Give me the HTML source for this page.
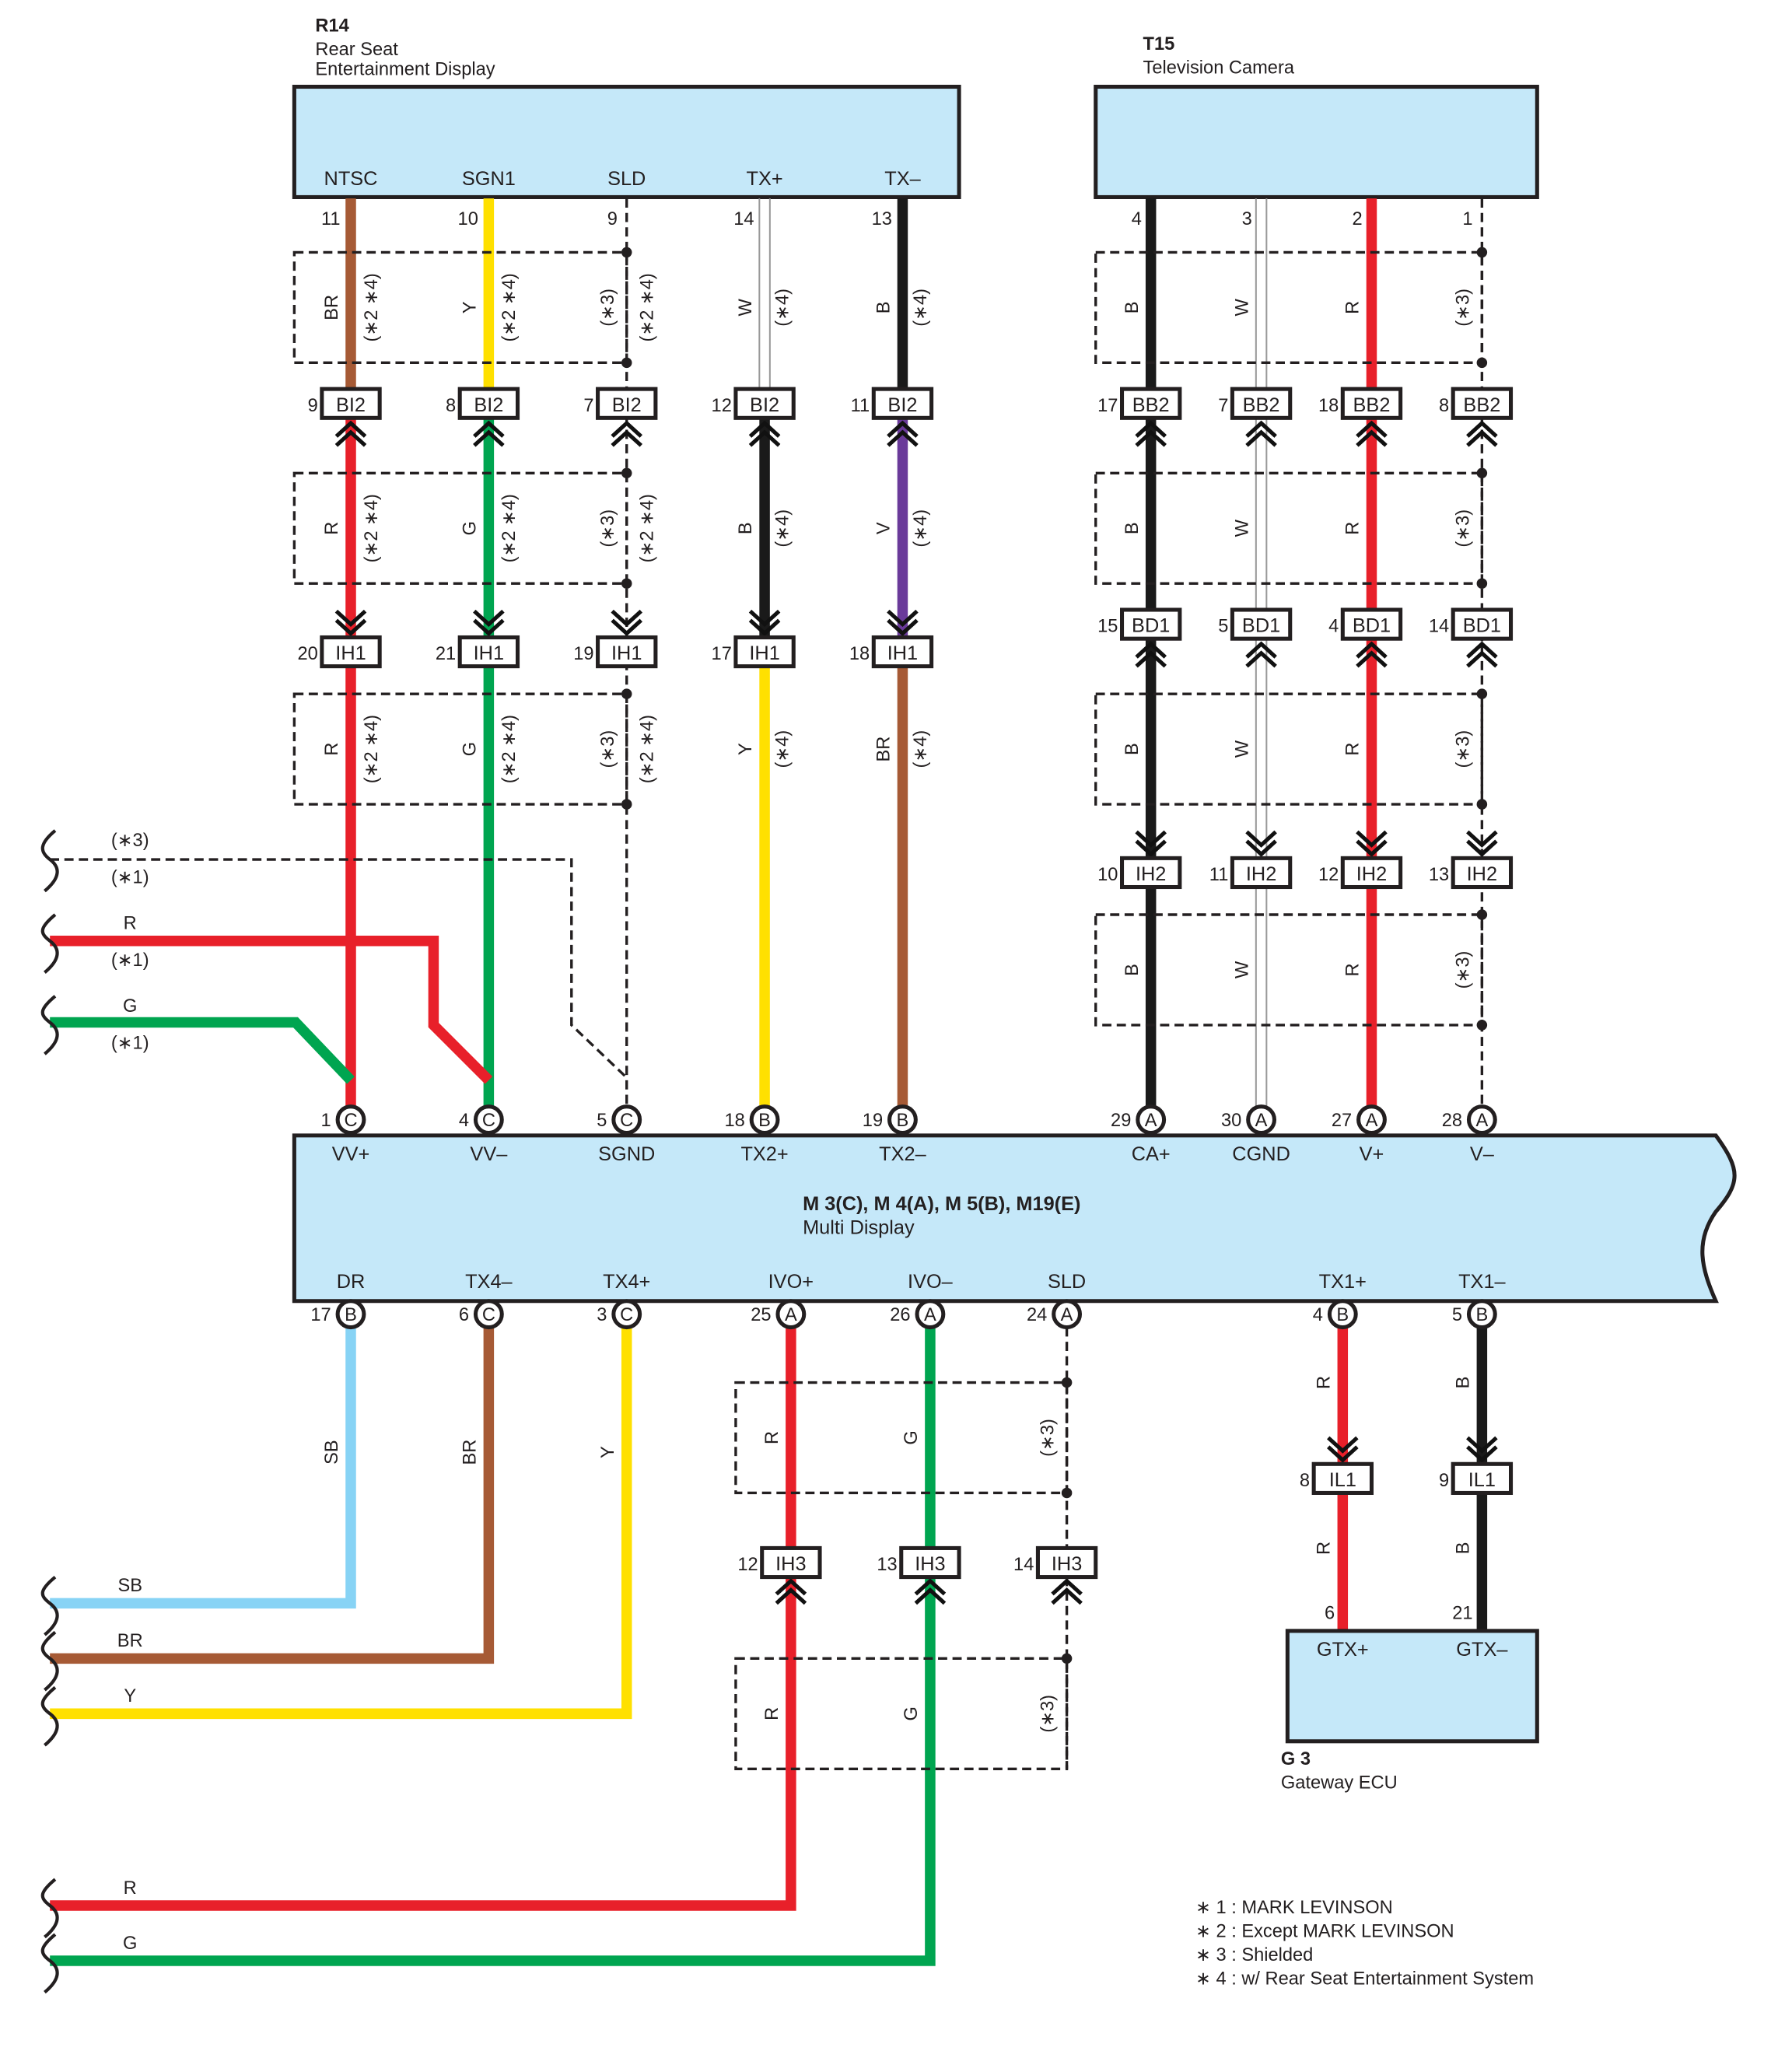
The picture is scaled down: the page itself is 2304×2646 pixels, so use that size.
<!DOCTYPE html>
<html><head><meta charset="utf-8"><style>
html,body{margin:0;padding:0;background:#fff}
svg{display:block}
text{font-family:"Liberation Sans",Arial,sans-serif;fill:#231f20}
</style></head><body>
<svg width="2304" height="2646" viewBox="0 0 1364 1566" preserveAspectRatio="none" xmlns="http://www.w3.org/2000/svg">
<defs>
<g id="up"><polyline points="-11,10 0,0 11,10" fill="none" stroke="#111" stroke-width="3"/><polyline points="-11,17 0,7 11,17" fill="none" stroke="#111" stroke-width="3"/></g>
<g id="dn"><polyline points="-11,-10 0,0 11,-10" fill="none" stroke="#111" stroke-width="3"/><polyline points="-11,-17 0,-7 11,-17" fill="none" stroke="#111" stroke-width="3"/></g>
</defs>
<text x="240" y="24" font-size="14" font-weight="bold">R14</text>
<text x="240" y="42" font-size="14">Rear Seat</text>
<text x="240" y="57" font-size="14">Entertainment Display</text>
<text x="870" y="38" font-size="14" font-weight="bold">T15</text>
<text x="870" y="56" font-size="14">Television Camera</text>
<rect x="224" y="66" width="506" height="84" fill="#c5e8f9" stroke="#231f20" stroke-width="3"/>
<rect x="834" y="66" width="336" height="84" fill="#c5e8f9" stroke="#231f20" stroke-width="3"/>
<g font-size="15" text-anchor="middle">
<text x="267" y="141">NTSC</text><text x="372" y="141">SGN1</text><text x="477" y="141">SLD</text><text x="582" y="141">TX+</text><text x="687" y="141">TX–</text>
</g>
<g stroke-width="8" fill="none">
<line x1="267" y1="151" x2="267" y2="296" stroke="#a65a35"/>
<line x1="267" y1="318" x2="267" y2="842" stroke="#e8202a"/>
<line x1="372" y1="151" x2="372" y2="296" stroke="#ffe000"/>
<line x1="372" y1="318" x2="372" y2="842" stroke="#00a550"/>
<line x1="582" y1="318" x2="582" y2="485" stroke="#1a1a1a"/>
<line x1="582" y1="507" x2="582" y2="842" stroke="#ffe000"/>
<line x1="687" y1="151" x2="687" y2="296" stroke="#1a1a1a"/>
<line x1="687" y1="318" x2="687" y2="485" stroke="#6a3a9a"/>
<line x1="687" y1="507" x2="687" y2="842" stroke="#a65a35"/>
<line x1="876" y1="151" x2="876" y2="842" stroke="#1a1a1a"/>
<line x1="1044" y1="151" x2="1044" y2="842" stroke="#e8202a"/>
<polyline points="38,716 330,716 330,780 372,822" stroke="#e8202a"/>
<polyline points="38,778 225,778 267,822" stroke="#00a550"/>
<polyline points="267,1010 267,1220 38,1220" stroke="#87d3f5"/>
<polyline points="372,1010 372,1262 38,1262" stroke="#a65a35"/>
<polyline points="477,1010 477,1304 38,1304" stroke="#ffe000"/>
<polyline points="602,1010 602,1178" stroke="#e8202a"/>
<polyline points="602,1200 602,1450 38,1450" stroke="#e8202a"/>
<polyline points="708,1010 708,1178" stroke="#00a550"/>
<polyline points="708,1200 708,1492 38,1492" stroke="#00a550"/>
<polyline points="1022,1010 1022,1241" stroke="#e8202a"/>
<polyline points="1128,1010 1128,1241" stroke="#1a1a1a"/>
</g>
<g stroke="#999" stroke-width="1.2">
<line x1="578" y1="151" x2="578" y2="296"/><line x1="586" y1="151" x2="586" y2="296"/>
<line x1="956" y1="151" x2="956" y2="842"/><line x1="964" y1="151" x2="964" y2="842"/>
</g>
<g stroke="#231f20" stroke-width="2" stroke-dasharray="7,4" fill="none">
<line x1="477" y1="151" x2="477" y2="842"/>
<line x1="1128" y1="151" x2="1128" y2="842"/>
<line x1="812" y1="1010" x2="812" y2="1178"/>
<line x1="812" y1="1200" x2="812" y2="1346"/>
<polyline points="38,654 435,654 435,780 477,820"/>
<rect x="224" y="192" width="253" height="84"/><rect x="224" y="360" width="253" height="84"/><rect x="224" y="528" width="253" height="84"/>
<rect x="834" y="192" width="294" height="84"/><rect x="834" y="360" width="294" height="84"/><rect x="834" y="528" width="294" height="84"/><rect x="834" y="696" width="294" height="84"/>
<rect x="560" y="1052" width="252" height="84"/><rect x="560" y="1262" width="252" height="84"/>
</g>
<g fill="#231f20">
<circle cx="477" cy="192" r="4"/><circle cx="477" cy="276" r="4"/><circle cx="477" cy="360" r="4"/><circle cx="477" cy="444" r="4"/><circle cx="477" cy="528" r="4"/><circle cx="477" cy="612" r="4"/>
<circle cx="1128" cy="192" r="4"/><circle cx="1128" cy="276" r="4"/><circle cx="1128" cy="360" r="4"/><circle cx="1128" cy="444" r="4"/><circle cx="1128" cy="528" r="4"/><circle cx="1128" cy="612" r="4"/><circle cx="1128" cy="696" r="4"/><circle cx="1128" cy="780" r="4"/>
<circle cx="812" cy="1052" r="4"/><circle cx="812" cy="1136" r="4"/><circle cx="812" cy="1262" r="4"/>
</g>
<g stroke="#231f20" stroke-width="2.5" fill="none">
<path d="M42,632 C30,642 30,648 38,654 C46,660 46,668 34,678"/>
<path d="M42,696 C30,706 30,710 38,716 C46,722 46,730 34,740"/>
<path d="M42,758 C30,768 30,772 38,778 C46,784 46,792 34,802"/>
<path d="M42,1200 C30,1210 30,1214 38,1220 C46,1226 46,1234 34,1244"/>
<path d="M42,1242 C30,1252 30,1256 38,1262 C46,1268 46,1276 34,1286"/>
<path d="M42,1284 C30,1294 30,1298 38,1304 C46,1310 46,1318 34,1328"/>
<path d="M42,1430 C30,1440 30,1444 38,1450 C46,1456 46,1464 34,1474"/>
<path d="M42,1472 C30,1482 30,1486 38,1492 C46,1498 46,1506 34,1516"/>
</g>
<g font-size="14" text-anchor="middle">
<text x="99" y="644">(∗3)</text><text x="99" y="672">(∗1)</text>
<text x="99" y="707">R</text><text x="99" y="735">(∗1)</text>
<text x="99" y="770">G</text><text x="99" y="798">(∗1)</text>
<text x="99" y="1211">SB</text><text x="99" y="1253">BR</text><text x="99" y="1295">Y</text>
<text x="99" y="1441">R</text><text x="99" y="1483">G</text>
</g>
<g>
<use href="#up" x="267" y="322"/><use href="#up" x="372" y="322"/><use href="#up" x="477" y="322"/><use href="#up" x="582" y="322"/><use href="#up" x="687" y="322"/>
<use href="#dn" x="267" y="482"/><use href="#dn" x="372" y="482"/><use href="#dn" x="477" y="482"/><use href="#dn" x="582" y="482"/><use href="#dn" x="687" y="482"/>
<use href="#up" x="876" y="322"/><use href="#up" x="960" y="322"/><use href="#up" x="1044" y="322"/><use href="#up" x="1128" y="322"/>
<use href="#up" x="876" y="490"/><use href="#up" x="960" y="490"/><use href="#up" x="1044" y="490"/><use href="#up" x="1128" y="490"/>
<use href="#dn" x="876" y="650"/><use href="#dn" x="960" y="650"/><use href="#dn" x="1044" y="650"/><use href="#dn" x="1128" y="650"/>
<use href="#up" x="602" y="1203"/><use href="#up" x="708" y="1203"/><use href="#up" x="812" y="1203"/>
<use href="#dn" x="1022" y="1111"/><use href="#dn" x="1128" y="1111"/>
</g>
<g stroke="#231f20" stroke-width="3" fill="#fff">
<rect x="245" y="296" width="44" height="22"/><rect x="350" y="296" width="44" height="22"/><rect x="455" y="296" width="44" height="22"/><rect x="560" y="296" width="44" height="22"/><rect x="665" y="296" width="44" height="22"/>
<rect x="245" y="485" width="44" height="22"/><rect x="350" y="485" width="44" height="22"/><rect x="455" y="485" width="44" height="22"/><rect x="560" y="485" width="44" height="22"/><rect x="665" y="485" width="44" height="22"/>
<rect x="854" y="296" width="44" height="22"/><rect x="938" y="296" width="44" height="22"/><rect x="1022" y="296" width="44" height="22"/><rect x="1106" y="296" width="44" height="22"/>
<rect x="854" y="464" width="44" height="22"/><rect x="938" y="464" width="44" height="22"/><rect x="1022" y="464" width="44" height="22"/><rect x="1106" y="464" width="44" height="22"/>
<rect x="854" y="653" width="44" height="22"/><rect x="938" y="653" width="44" height="22"/><rect x="1022" y="653" width="44" height="22"/><rect x="1106" y="653" width="44" height="22"/>
<rect x="580" y="1178" width="44" height="22"/><rect x="686" y="1178" width="44" height="22"/><rect x="790" y="1178" width="44" height="22"/>
<rect x="1000" y="1114" width="44" height="22"/><rect x="1106" y="1114" width="44" height="22"/>
</g>
<g font-size="15" text-anchor="middle">
<text x="267" y="313">BI2</text><text x="372" y="313">BI2</text><text x="477" y="313">BI2</text><text x="582" y="313">BI2</text><text x="687" y="313">BI2</text>
<text x="267" y="502">IH1</text><text x="372" y="502">IH1</text><text x="477" y="502">IH1</text><text x="582" y="502">IH1</text><text x="687" y="502">IH1</text>
<text x="876" y="313">BB2</text><text x="960" y="313">BB2</text><text x="1044" y="313">BB2</text><text x="1128" y="313">BB2</text>
<text x="876" y="481">BD1</text><text x="960" y="481">BD1</text><text x="1044" y="481">BD1</text><text x="1128" y="481">BD1</text>
<text x="876" y="670">IH2</text><text x="960" y="670">IH2</text><text x="1044" y="670">IH2</text><text x="1128" y="670">IH2</text>
<text x="602" y="1195">IH3</text><text x="708" y="1195">IH3</text><text x="812" y="1195">IH3</text>
<text x="1022" y="1131">IL1</text><text x="1128" y="1131">IL1</text>
</g>
<g font-size="14" text-anchor="end">
<text x="259" y="171">11</text><text x="364" y="171">10</text><text x="470" y="171">9</text><text x="574" y="171">14</text><text x="679" y="171">13</text>
<text x="869" y="171">4</text><text x="953" y="171">3</text><text x="1037" y="171">2</text><text x="1121" y="171">1</text>
<text x="242" y="313">9</text><text x="347" y="313">8</text><text x="452" y="313">7</text><text x="557" y="313">12</text><text x="662" y="313">11</text>
<text x="242" y="502">20</text><text x="347" y="502">21</text><text x="452" y="502">19</text><text x="557" y="502">17</text><text x="662" y="502">18</text>
<text x="851" y="313">17</text><text x="935" y="313">7</text><text x="1019" y="313">18</text><text x="1103" y="313">8</text>
<text x="851" y="481">15</text><text x="935" y="481">5</text><text x="1019" y="481">4</text><text x="1103" y="481">14</text>
<text x="851" y="670">10</text><text x="935" y="670">11</text><text x="1019" y="670">12</text><text x="1103" y="670">13</text>
<text x="577" y="1195">12</text><text x="683" y="1195">13</text><text x="787" y="1195">14</text>
<text x="997" y="1131">8</text><text x="1103" y="1131">9</text>
<text x="1016" y="1232">6</text><text x="1121" y="1232">21</text>
</g>
<g font-size="14" text-anchor="middle">
<text transform="translate(257,234) rotate(-90)">BR</text><text transform="translate(287,234) rotate(-90)">(∗2 ∗4)</text>
<text transform="translate(362,234) rotate(-90)">Y</text><text transform="translate(392,234) rotate(-90)">(∗2 ∗4)</text>
<text transform="translate(467,234) rotate(-90)">(∗3)</text><text transform="translate(497,234) rotate(-90)">(∗2 ∗4)</text>
<text transform="translate(572,234) rotate(-90)">W</text><text transform="translate(600,234) rotate(-90)">(∗4)</text>
<text transform="translate(677,234) rotate(-90)">B</text><text transform="translate(705,234) rotate(-90)">(∗4)</text>
<text transform="translate(257,402) rotate(-90)">R</text><text transform="translate(287,402) rotate(-90)">(∗2 ∗4)</text>
<text transform="translate(362,402) rotate(-90)">G</text><text transform="translate(392,402) rotate(-90)">(∗2 ∗4)</text>
<text transform="translate(467,402) rotate(-90)">(∗3)</text><text transform="translate(497,402) rotate(-90)">(∗2 ∗4)</text>
<text transform="translate(572,402) rotate(-90)">B</text><text transform="translate(600,402) rotate(-90)">(∗4)</text>
<text transform="translate(677,402) rotate(-90)">V</text><text transform="translate(705,402) rotate(-90)">(∗4)</text>
<text transform="translate(257,570) rotate(-90)">R</text><text transform="translate(287,570) rotate(-90)">(∗2 ∗4)</text>
<text transform="translate(362,570) rotate(-90)">G</text><text transform="translate(392,570) rotate(-90)">(∗2 ∗4)</text>
<text transform="translate(467,570) rotate(-90)">(∗3)</text><text transform="translate(497,570) rotate(-90)">(∗2 ∗4)</text>
<text transform="translate(572,570) rotate(-90)">Y</text><text transform="translate(600,570) rotate(-90)">(∗4)</text>
<text transform="translate(677,570) rotate(-90)">BR</text><text transform="translate(705,570) rotate(-90)">(∗4)</text>
<text transform="translate(866,234) rotate(-90)">B</text><text transform="translate(950,234) rotate(-90)">W</text><text transform="translate(1034,234) rotate(-90)">R</text><text transform="translate(1118,234) rotate(-90)">(∗3)</text>
<text transform="translate(866,402) rotate(-90)">B</text><text transform="translate(950,402) rotate(-90)">W</text><text transform="translate(1034,402) rotate(-90)">R</text><text transform="translate(1118,402) rotate(-90)">(∗3)</text>
<text transform="translate(866,570) rotate(-90)">B</text><text transform="translate(950,570) rotate(-90)">W</text><text transform="translate(1034,570) rotate(-90)">R</text><text transform="translate(1118,570) rotate(-90)">(∗3)</text>
<text transform="translate(866,738) rotate(-90)">B</text><text transform="translate(950,738) rotate(-90)">W</text><text transform="translate(1034,738) rotate(-90)">R</text><text transform="translate(1118,738) rotate(-90)">(∗3)</text>
<text transform="translate(257,1105) rotate(-90)">SB</text><text transform="translate(362,1105) rotate(-90)">BR</text><text transform="translate(467,1105) rotate(-90)">Y</text>
<text transform="translate(592,1094) rotate(-90)">R</text><text transform="translate(698,1094) rotate(-90)">G</text><text transform="translate(802,1094) rotate(-90)">(∗3)</text>
<text transform="translate(592,1304) rotate(-90)">R</text><text transform="translate(698,1304) rotate(-90)">G</text><text transform="translate(802,1304) rotate(-90)">(∗3)</text>
<text transform="translate(1012,1052) rotate(-90)">R</text><text transform="translate(1118,1052) rotate(-90)">B</text>
<text transform="translate(1012,1178) rotate(-90)">R</text><text transform="translate(1118,1178) rotate(-90)">B</text>
</g>
<path d="M224,864 L1306,864 C1325,890 1325,900 1306,922 C1290,945 1295,965 1306,990 L224,990 Z" fill="#c5e8f9" stroke="#231f20" stroke-width="3"/>
<g font-size="15" text-anchor="middle">
<text x="267" y="883">VV+</text><text x="372" y="883">VV–</text><text x="477" y="883">SGND</text><text x="582" y="883">TX2+</text><text x="687" y="883">TX2–</text>
<text x="876" y="883">CA+</text><text x="960" y="883">CGND</text><text x="1044" y="883">V+</text><text x="1128" y="883">V–</text>
<text x="267" y="980">DR</text><text x="372" y="980">TX4–</text><text x="477" y="980">TX4+</text><text x="602" y="980">IVO+</text><text x="708" y="980">IVO–</text><text x="812" y="980">SLD</text>
<text x="1022" y="980">TX1+</text><text x="1128" y="980">TX1–</text>
</g>
<text x="611" y="921" font-size="15" font-weight="bold">M 3(C), M 4(A), M 5(B), M19(E)</text>
<text x="611" y="939" font-size="15">Multi Display</text>
<g stroke="#231f20" stroke-width="3" fill="#fff">
<circle cx="267" cy="852" r="10"/><circle cx="372" cy="852" r="10"/><circle cx="477" cy="852" r="10"/><circle cx="582" cy="852" r="10"/><circle cx="687" cy="852" r="10"/>
<circle cx="876" cy="852" r="10"/><circle cx="960" cy="852" r="10"/><circle cx="1044" cy="852" r="10"/><circle cx="1128" cy="852" r="10"/>
<circle cx="267" cy="1000" r="10"/><circle cx="372" cy="1000" r="10"/><circle cx="477" cy="1000" r="10"/><circle cx="602" cy="1000" r="10"/><circle cx="708" cy="1000" r="10"/><circle cx="812" cy="1000" r="10"/><circle cx="1022" cy="1000" r="10"/><circle cx="1128" cy="1000" r="10"/>
</g>
<g font-size="14" text-anchor="middle">
<text x="267" y="857">C</text><text x="372" y="857">C</text><text x="477" y="857">C</text><text x="582" y="857">B</text><text x="687" y="857">B</text>
<text x="876" y="857">A</text><text x="960" y="857">A</text><text x="1044" y="857">A</text><text x="1128" y="857">A</text>
<text x="267" y="1005">B</text><text x="372" y="1005">C</text><text x="477" y="1005">C</text><text x="602" y="1005">A</text><text x="708" y="1005">A</text><text x="812" y="1005">A</text><text x="1022" y="1005">B</text><text x="1128" y="1005">B</text>
</g>
<g font-size="14" text-anchor="end">
<text x="252" y="857">1</text><text x="357" y="857">4</text><text x="462" y="857">5</text><text x="567" y="857">18</text><text x="672" y="857">19</text>
<text x="861" y="857">29</text><text x="945" y="857">30</text><text x="1029" y="857">27</text><text x="1113" y="857">28</text>
<text x="252" y="1005">17</text><text x="357" y="1005">6</text><text x="462" y="1005">3</text><text x="587" y="1005">25</text><text x="693" y="1005">26</text><text x="797" y="1005">24</text><text x="1007" y="1005">4</text><text x="1113" y="1005">5</text>
</g>
<rect x="980" y="1241" width="190" height="84" fill="#c5e8f9" stroke="#231f20" stroke-width="3"/>
<g font-size="15" text-anchor="middle"><text x="1022" y="1260">GTX+</text><text x="1128" y="1260">GTX–</text></g>
<text x="975" y="1343" font-size="14" font-weight="bold">G 3</text>
<text x="975" y="1361" font-size="14">Gateway ECU</text>
<g font-size="14">
<text x="910" y="1456">∗ 1 : MARK LEVINSON</text>
<text x="910" y="1474">∗ 2 : Except MARK LEVINSON</text>
<text x="910" y="1492">∗ 3 : Shielded</text>
<text x="910" y="1510">∗ 4 : w/ Rear Seat Entertainment System</text>
</g>
</svg>
</body></html>
